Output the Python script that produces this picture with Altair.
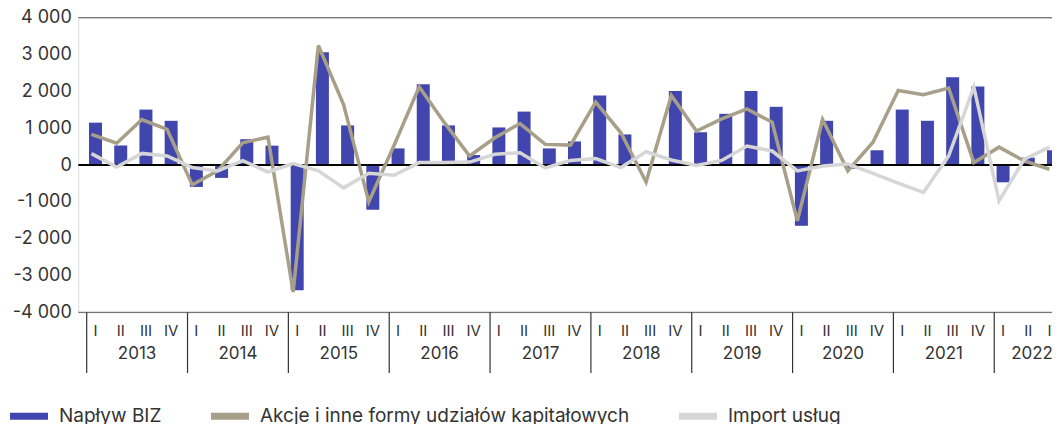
import altair as alt
import pandas as pd

years = [2013, 2014, 2015, 2016, 2017, 2018, 2019, 2020, 2021, 2022]
quarters = ["I", "II", "III", "IV"]

biz = [1150, 530, 1505, 1200,
       -595, -350, 700, 525,
       -3400, 3065, 1075, -1215,
       450, 2190, 1075, 270,
       1020, 1450, 450, 640,
       1885, 830, 20, 2010,
       890, 1390, 2010, 1580,
       -1650, 1200, -100, 400,
       1505, 1200, 2380, 2130,
       -470, 200, 400]
akcje = [830, 590, 1235, 965,
         -540, -160, 605, 755,
         -3450, 3245, 1640, -1000,
         530, 2120, 1150, 245,
         740, 1125, 560, 540,
         1710, 875, -460, 1885,
         920, 1250, 1525, 1160,
         -1515, 1235, -160, 620,
         2025, 1910, 2090, 65,
         485, 110, -115]
imp = [310, -55, 315, 245,
       -70, -160, 120, -190,
       40, -160, -620, -225,
       -280, 65, 65, 80,
       290, 335, -80, 125,
       175, -70, 360, 135,
       -10, 125, 515, 380,
       -160, -25, 25, -230,
       -495, -745, 245, 2120,
       -975, 155, 485]

series_names = ["Napływ BIZ", "Akcje i inne formy udziałów kapitałowych", "Import usług"]
colors = ["#4146AE", "#A89F89", "#D6D6D6"]

n = len(biz)
idx = list(range(n))
nq = [min(4, n - 4 * k) for k in range(len(years))]

bars_df = pd.DataFrame({"t": [i + 0.35 for i in idx], "v": biz, "s": series_names[0]})
akcje_df = pd.DataFrame({"t": [i + 0.19 for i in idx], "v": akcje})
imp_df = pd.DataFrame({"t": [i + 0.19 for i in idx], "v": imp})
qlab_df = pd.DataFrame({"t": [i + 0.35 for i in idx], "lab": [quarters[i % 4] for i in idx]})
ylab_df = pd.DataFrame({"t": [4 * k + nq[k] / 2 for k in range(len(years))],
                        "lab": [str(y) for y in years]})
sep_df = pd.DataFrame({"t": [4 * k for k in range(len(years))]})
ref_df = pd.DataFrame({"v": [4000, -4000]})
zero_df = pd.DataFrame({"v": [0]})

# plot area: 25.21 px per quarter, page fits 1044 px wide svg
W = 973.7
H = 294.6
PXQ = 25.21
x0 = -0.333

xscale = alt.Scale(domain=[x0, x0 + W / PXQ], nice=False, zero=False, padding=0)
yscale = alt.Scale(domain=[-4000, 4000], nice=False, zero=False, padding=0)
yaxis = alt.Axis(
    values=list(range(-4000, 4001, 1000)),
    labelExpr="(datum.value < 0 ? '-' : '') + replace(format(abs(datum.value), ','), ',', ' ')",
    grid=False, domain=False, ticks=False, labelPadding=7, title=None,
    labelFontSize=18, labelColor="#333333", labelFont="Inter",
)

X = alt.X("t:Q", scale=xscale, axis=None)
Y = alt.Y("v:Q", scale=yscale, axis=yaxis)

bars = alt.Chart(bars_df).mark_bar(size=13).encode(
    x=X, y=Y,
    color=alt.Color(
        "s:N",
        scale=alt.Scale(domain=series_names, range=colors),
        legend=alt.Legend(
            title=None, orient="none", direction="horizontal",
            legendX=-68.3, legendY=379.5,
            symbolType="M-1,-0.184L1,-0.184L1,0.184L-1,0.184Z",
            symbolSize=1444, symbolStrokeWidth=0, symbolOpacity=1,
            labelFont="Inter", labelFontSize=19, labelColor="#333333",
            labelOffset=11, columnPadding=49, labelLimit=600,
        ),
    ),
)

refs = alt.Chart(ref_df).mark_rule(color="#595959", strokeWidth=1).encode(
    y=Y, x=alt.value(0), x2=alt.value(W)
)
zero = alt.Chart(zero_df).mark_rule(color="#000000", strokeWidth=2).encode(
    y=Y, x=alt.value(0), x2=alt.value(W)
)
akcje_line = alt.Chart(akcje_df).mark_line(color=colors[1], strokeWidth=3.5).encode(x=X, y=Y)
imp_line = alt.Chart(imp_df).mark_line(color=colors[2], strokeWidth=3.5).encode(x=X, y=Y)

seps = alt.Chart(sep_df).mark_rule(color="#333333", strokeWidth=1.2).encode(
    x=X, y=alt.value(H), y2=alt.value(H + 60.7)
)
qtext = alt.Chart(qlab_df).mark_text(
    font="Inter", fontSize=15, color="#333333", baseline="middle", align="center"
).encode(x=X, y=alt.value(H + 18.5), text="lab:N")
ytext = alt.Chart(ylab_df).mark_text(
    font="Inter", fontSize=17, color="#333333", baseline="middle", align="center"
).encode(x=X, y=alt.value(H + 41.5), text="lab:N")

chart = alt.layer(bars, refs, zero, akcje_line, imp_line, seps, qtext, ytext).properties(
    width=W, height=H,
    autosize=alt.AutoSizeParams(type="none"),
    padding={"left": 70.3, "top": 9.7, "right": 0, "bottom": 111.7},
).configure_view(stroke=None).configure(font="Inter")

chart.save("out.html", embed_options={"renderer": "svg", "actions": False})
